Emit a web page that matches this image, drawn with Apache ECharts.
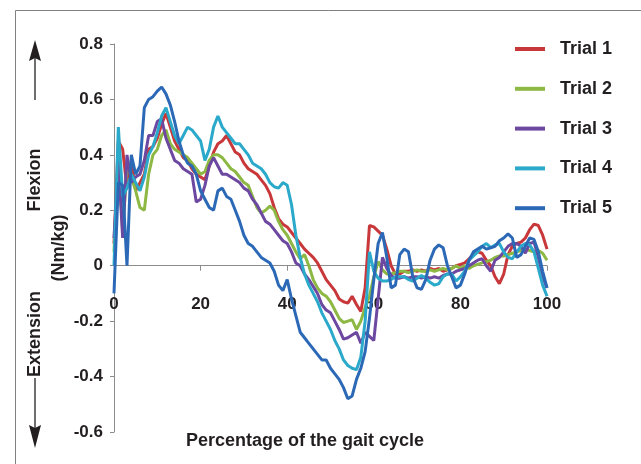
<!DOCTYPE html>
<html>
<head>
<meta charset="utf-8">
<script src="https://cdn.jsdelivr.net/npm/echarts@6/dist/echarts.min.js"></script>
<style>
  html, body { margin: 0; padding: 0; background: #fff; }
  #chart { width: 641px; height: 464px; }
</style>
</head>
<body>
<div id="chart"></div>
<script>
// Knee moment across the gait cycle, five trials (Nm/kg)
const gaitPct = [
  0, 1, 2, 3, 4, 5, 6, 7, 8, 9,
  10, 11, 12, 13, 14, 15, 16, 17, 18, 19,
  20, 21, 22, 23, 24, 25, 26, 27, 28, 29,
  30, 31, 32, 33, 34, 35, 36, 37, 38, 39,
  40, 41, 42, 43, 44, 45, 46, 47, 48, 49,
  50, 51, 52, 53, 54, 55, 56, 57, 58, 59,
  60, 61, 62, 63, 64, 65, 66, 67, 68, 69,
  70, 71, 72, 73, 74, 75, 76, 77, 78, 79,
  80, 81, 82, 83, 84, 85, 86, 87, 88, 89,
  90, 91, 92, 93, 94, 95, 96, 97, 98, 99,
  100
];

const trial1 = [
  0.08, 0.45, 0.42, 0.28, 0.38, 0.27, 0.30, 0.33, 0.42, 0.43,
  0.46, 0.51, 0.55, 0.50, 0.45, 0.42, 0.39, 0.38, 0.35, 0.33,
  0.32, 0.31, 0.36, 0.41, 0.44, 0.45, 0.47, 0.44, 0.41, 0.40,
  0.37, 0.35, 0.34, 0.33, 0.31, 0.29, 0.26, 0.21, 0.17, 0.15,
  0.14, 0.12, 0.10, 0.08, 0.06, 0.045, 0.03, 0.01, -0.02, -0.05,
  -0.07, -0.09, -0.12, -0.13, -0.135, -0.11, -0.14, -0.165, -0.08, 0.145,
  0.14, 0.125, 0.11, 0.06, 0.0, -0.03, -0.03, -0.02, -0.02, -0.015,
  -0.02, -0.015, -0.02, -0.01, -0.015, -0.01, -0.02, -0.015, -0.01, 0.0,
  0.005, 0.01, 0.025, 0.04, 0.05, 0.045, 0.02, 0.0, -0.04, -0.065,
  -0.03, 0.04, 0.07, 0.08, 0.085, 0.10, 0.13, 0.15, 0.145, 0.11,
  0.06
];

const trial2 = [
  0.05, 0.40, 0.12, 0.36, 0.32, 0.27, 0.21, 0.20, 0.33, 0.40,
  0.42, 0.47, 0.49, 0.44, 0.42, 0.41, 0.40, 0.39, 0.37, 0.35,
  0.33, 0.34, 0.38, 0.40, 0.40, 0.39, 0.37, 0.35, 0.34, 0.32,
  0.30, 0.29, 0.25, 0.21, 0.19, 0.20, 0.215, 0.20, 0.16, 0.13,
  0.11, 0.08, 0.05, 0.025, 0.04, 0.0, -0.05, -0.08, -0.10, -0.11,
  -0.13, -0.16, -0.19, -0.205, -0.20, -0.195, -0.23, -0.20, -0.15, -0.11,
  -0.04, 0.015, -0.015, -0.03, -0.03, -0.025, -0.02, -0.02, -0.025, -0.02,
  -0.015, -0.02, -0.02, -0.015, -0.02, -0.015, -0.01, -0.015, -0.01, 0.0,
  -0.01, 0.0, -0.01, 0.0, 0.005, 0.01, 0.015, 0.02, 0.03, 0.035,
  0.035, 0.04, 0.045, 0.05, 0.055, 0.06, 0.055, 0.05, 0.055, 0.045,
  0.02
];

const trial3 = [
  0.10, 0.38, 0.10, 0.40, 0.30, 0.32, 0.33, 0.38, 0.47, 0.47,
  0.52, 0.53, 0.46, 0.42, 0.38, 0.37, 0.35, 0.34, 0.33, 0.23,
  0.24, 0.29, 0.36, 0.39, 0.36, 0.33, 0.33, 0.32, 0.31, 0.30,
  0.28, 0.27, 0.24, 0.22, 0.19, 0.16, 0.15, 0.13, 0.11, 0.09,
  0.08, 0.05, 0.01, 0.0, -0.03, -0.05, -0.075, -0.10, -0.14, -0.16,
  -0.17, -0.20, -0.23, -0.265, -0.26, -0.25, -0.24, -0.28, -0.24, -0.255,
  -0.27, -0.12, 0.03, -0.01, -0.035, -0.045, -0.045, -0.04, -0.045, -0.04,
  -0.04, -0.045, -0.04, -0.045, -0.04, -0.045, -0.035, -0.03, -0.03, -0.02,
  -0.015, -0.01, 0.0, 0.01, 0.02, 0.025, 0.0, -0.02, 0.02, 0.03,
  0.05, 0.07, 0.08, 0.08, 0.07, 0.045, 0.08, 0.085, 0.03, -0.04,
  -0.08
];

const trial4 = [
  0.0, 0.50, 0.25, 0.28, 0.33, 0.30, 0.27, 0.32, 0.40, 0.43,
  0.48, 0.54, 0.57, 0.52, 0.47, 0.44, 0.47, 0.50, 0.49, 0.47,
  0.45, 0.38, 0.42, 0.50, 0.54, 0.50, 0.48, 0.46, 0.44, 0.44,
  0.42, 0.40, 0.37, 0.36, 0.35, 0.33, 0.30, 0.285, 0.28, 0.30,
  0.29, 0.22, 0.11, 0.03, -0.03, -0.07, -0.10, -0.13, -0.17, -0.20,
  -0.23, -0.27, -0.30, -0.34, -0.36, -0.37, -0.375, -0.33, -0.20, 0.05,
  -0.02, -0.045, -0.055, -0.055, -0.05, -0.04, -0.04, -0.04, -0.05, -0.055,
  -0.045, -0.035, -0.045, -0.06, -0.07, -0.065, -0.04, -0.03, -0.03, -0.055,
  -0.04, -0.02, 0.02, 0.035, 0.05, 0.07, 0.08, 0.065, 0.075, 0.08,
  0.05, 0.03, 0.025, 0.05, 0.07, 0.08, 0.075, 0.05, -0.01, -0.07,
  -0.11
];

const trial5 = [
  -0.10, 0.30, 0.29, 0.0, 0.40, 0.33, 0.36, 0.57, 0.60, 0.61,
  0.63, 0.645, 0.62, 0.58, 0.52, 0.45, 0.40, 0.37, 0.36, 0.33,
  0.27, 0.24, 0.21, 0.20, 0.27, 0.28, 0.25, 0.24, 0.20, 0.16,
  0.11, 0.08, 0.07, 0.05, 0.03, 0.02, 0.01, -0.02, -0.07, -0.09,
  -0.05, -0.12, -0.18, -0.24, -0.26, -0.28, -0.30, -0.32, -0.34, -0.34,
  -0.37, -0.39, -0.41, -0.44, -0.48, -0.47, -0.41, -0.37, -0.31, -0.19,
  -0.05, 0.08, 0.12, 0.03, -0.08, -0.07, 0.04, 0.06, 0.05, -0.04,
  -0.08, -0.085, -0.05, 0.02, 0.06, 0.075, 0.065, 0.0, -0.04, -0.08,
  -0.07, -0.03, 0.02, 0.05, 0.06, 0.07, 0.06, 0.065, 0.07, 0.09,
  0.10, 0.115, 0.10, 0.03, 0.04, 0.07, 0.10, 0.095, 0.05, -0.02,
  -0.08
];

const trialNames = ['Trial 1', 'Trial 2', 'Trial 3', 'Trial 4', 'Trial 5'];
const trialColors = ['#c8373a', '#8cb843', '#6d48a0', '#2aa9cb', '#2b69b7'];
const trialValues = [trial1, trial2, trial3, trial4, trial5];

const FONT = '"Liberation Sans", Arial, Helvetica, sans-serif';
const INK = '#231f20';
const AXIS_GREY = '#8c8c8c';

// plot box in pixels; the x axis sits on the zero line
const PLOT = { left: 114, right: 547, top: 44, bottom: 432 };
const Y_MIN = -0.6, Y_MAX = 0.8;
const zeroOffset = (PLOT.bottom - PLOT.top) * (0 - Y_MIN) / (Y_MAX - Y_MIN);

const chart = echarts.init(document.getElementById('chart'), null, { renderer: 'canvas' });

const series = trialNames.map((name, k) => ({
  name: name,
  type: 'line',
  data: gaitPct.map((p, i) => [p, trialValues[k][i]]),
  showSymbol: false,
  symbol: 'none',
  smooth: false,
  lineStyle: { width: 3, color: trialColors[k] },
  itemStyle: { color: trialColors[k] },
  emphasis: { disabled: true },
  z: 3 + k
}));

// vertical arrow for the flexion / extension annotations
function arrow(x, yFrom, yTip, headLen, headHalf) {
  const dir = yTip < yFrom ? 1 : -1;
  const yBase = yTip + dir * headLen;
  return [
    {
      type: 'line',
      shape: { x1: x, y1: yFrom, x2: x, y2: yBase },
      style: { stroke: INK, lineWidth: 1.3 }
    },
    {
      type: 'polygon',
      shape: { points: [[x, yTip], [x - headHalf, yBase + dir * 3], [x, yBase], [x + headHalf, yBase + dir * 3]] },
      style: { fill: INK }
    }
  ];
}

const option = {
  backgroundColor: '#ffffff',
  animation: false,
  textStyle: { fontFamily: FONT },
  grid: {
    left: PLOT.left,
    right: 641 - PLOT.right,
    top: PLOT.top,
    bottom: 464 - PLOT.bottom,
    containLabel: false,
    outerBoundsMode: 'none'
  },
  legend: {
    data: trialNames,
    orient: 'vertical',
    left: 515,
    top: 40,
    padding: 0,
    itemWidth: 30,
    itemHeight: 4,
    itemGap: 21.8,
    icon: 'rect',
    selectedMode: false,
    textStyle: { fontFamily: FONT, fontSize: 18, fontWeight: 'bold', color: INK, padding: [0, 0, 0, 10] }
  },
  xAxis: {
    type: 'value',
    min: 0,
    max: 100,
    interval: 20,
    position: 'bottom',
    offset: -zeroOffset,
    axisLine: { onZero: false, lineStyle: { color: AXIS_GREY, width: 1 } },
    axisTick: { show: true, inside: false, length: 5, lineStyle: { color: AXIS_GREY } },
    axisLabel: { margin: 30, fontFamily: FONT, fontSize: 17, fontWeight: 'bold', color: INK },
    splitLine: { show: false }
  },
  yAxis: {
    type: 'value',
    min: Y_MIN,
    max: Y_MAX,
    interval: 0.2,
    axisLine: { show: true, lineStyle: { color: AXIS_GREY, width: 1 } },
    axisTick: { show: true, length: 4, lineStyle: { color: AXIS_GREY } },
    axisLabel: {
      margin: 11,
      fontFamily: FONT,
      fontSize: 17,
      fontWeight: 'bold',
      color: INK,
      formatter: v => (Math.abs(v) < 1e-9 ? '0' : String(Math.round(v * 10) / 10))
    },
    splitLine: { show: false }
  },
  graphic: [
    // outer frame (top and left edges)
    { type: 'line', shape: { x1: 15.5, y1: 10.5, x2: 641, y2: 10.5 }, style: { stroke: '#808080', lineWidth: 1 } },
    { type: 'line', shape: { x1: 15.5, y1: 10.5, x2: 15.5, y2: 464 }, style: { stroke: '#808080', lineWidth: 1 } },
    ...arrow(35, 100, 40, 18, 6),
    ...arrow(35, 378, 448, 20, 6),
    {
      type: 'text', x: 35, y: 180, rotation: Math.PI / 2,
      style: { text: 'Flexion', font: 'bold 18px ' + FONT, fill: INK, align: 'center', verticalAlign: 'middle' }
    },
    {
      type: 'text', x: 59, y: 248, rotation: Math.PI / 2,
      style: { text: '(Nm/kg)', font: 'bold 18px ' + FONT, fill: INK, align: 'center', verticalAlign: 'middle' }
    },
    {
      type: 'text', x: 35, y: 334, rotation: Math.PI / 2,
      style: { text: 'Extension', font: 'bold 18px ' + FONT, fill: INK, align: 'center', verticalAlign: 'middle' }
    },
    {
      type: 'text', x: 305, y: 441,
      style: { text: 'Percentage of the gait cycle', font: 'bold 18px ' + FONT, fill: INK, align: 'center', verticalAlign: 'middle' }
    }
  ],
  series: series
};

chart.setOption(option);
</script>
</body>
</html>
